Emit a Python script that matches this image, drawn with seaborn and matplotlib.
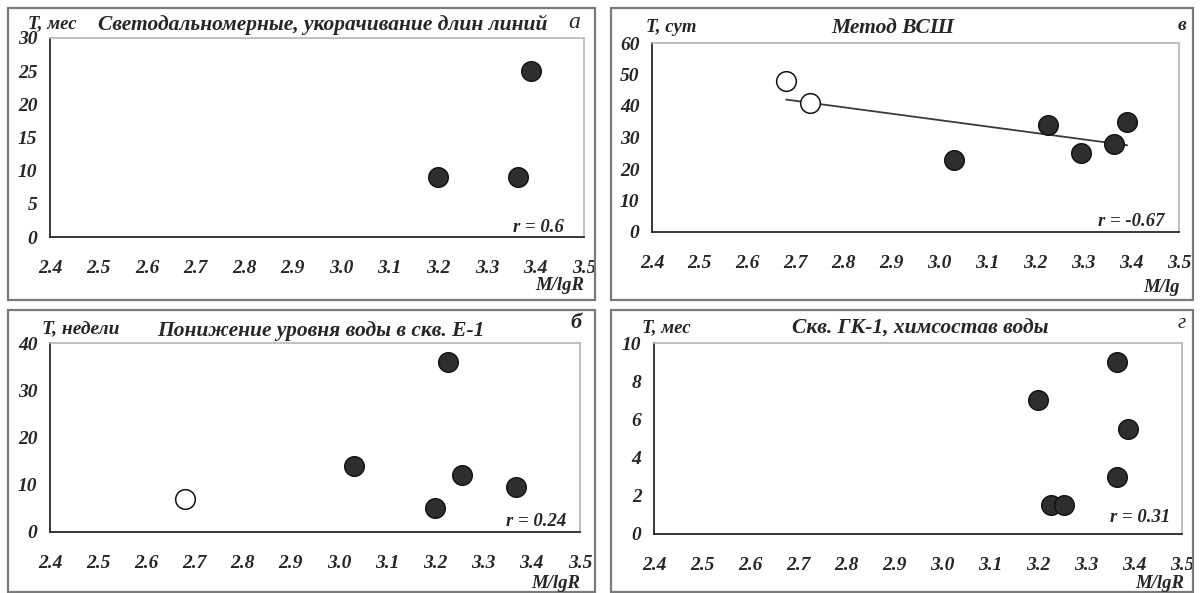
import matplotlib
matplotlib.use("Agg")
import matplotlib.pyplot as plt
from matplotlib.patches import Rectangle
import seaborn as sns
import pandas as pd

# ---- data ----
a_x = [3.20, 3.365, 3.39]
a_y = [9, 9, 25]

v_open_x = [2.68, 2.73]
v_open_y = [48, 41]
v_fill_x = [3.03, 3.227, 3.296, 3.365, 3.392]
v_fill_y = [23, 34, 25, 28, 35]

b_open_x = [2.68]
b_open_y = [7]
b_fill_x = [3.03, 3.20, 3.226, 3.256, 3.367]
b_fill_y = [14, 5, 36, 12, 9.5]

g_x = [3.20, 3.227, 3.254, 3.364, 3.364, 3.388]
g_y = [7, 1.5, 1.5, 9, 3, 5.5]

x_ticks = [2.4, 2.5, 2.6, 2.7, 2.8, 2.9, 3.0, 3.1, 3.2, 3.3, 3.4, 3.5]
x_ticklabels = ["2.4", "2.5", "2.6", "2.7", "2.8", "2.9", "3.0", "3.1", "3.2", "3.3", "3.4", "3.5"]

W, H = 1202, 593
sns.set_style("white")
plt.rcParams["font.family"] = ["Liberation Serif", "DejaVu Serif"]
plt.rcParams["font.weight"] = "bold"
plt.rcParams["font.style"] = "italic"

fig = plt.figure(figsize=(W / 100, H / 100), dpi=100)
fig.patch.set_facecolor("white")

DARK = "#262626"
FILL = "#2e2e2e"
MS = 200


def fx(px):
    return px / W


def fy(py):
    return 1 - py / H


def make_axes(x0, x1, top, bottom, ymax, ystep):
    ax = fig.add_axes([fx(x0), fy(bottom), fx(x1 - x0), (bottom - top) / H])
    ax.set_xlim(2.4, 3.5)
    ax.set_ylim(0, ymax)
    ax.set_xticks(x_ticks)
    ax.set_xticklabels(x_ticklabels)
    yt = list(range(0, ymax + 1, ystep))
    ax.set_yticks(yt)
    ax.set_yticklabels([str(v) for v in yt])
    for s in ["top", "right"]:
        ax.spines[s].set_color("#b5b5b5")
        ax.spines[s].set_linewidth(1.2)
    for s in ["left", "bottom"]:
        ax.spines[s].set_color(DARK)
        ax.spines[s].set_linewidth(1.3)
    ax.tick_params(axis="x", direction="inout", length=7, width=1.2, color=DARK,
                   pad=13, labelsize=14, labelcolor=DARK)
    ax.tick_params(axis="y", direction="out", length=4, width=1.2, color=DARK,
                   pad=5, labelsize=14, labelcolor=DARK)
    ax.set_facecolor("white")
    return ax


def filled(ax, xs, ys):
    df = pd.DataFrame({"x": xs, "y": ys})
    sns.scatterplot(data=df, x="x", y="y", ax=ax, s=MS, color=FILL,
                    edgecolor="#111111", linewidth=1.0, zorder=3, clip_on=False)


def hollow(ax, xs, ys):
    df = pd.DataFrame({"x": xs, "y": ys})
    sns.scatterplot(data=df, x="x", y="y", ax=ax, s=MS, color="white",
                    edgecolor="#111111", linewidth=1.1, zorder=3, clip_on=False)


def finish(ax):
    ax.set_xlabel("")
    ax.set_ylabel("")


def box(x0, y0, x1, y1):
    fig.patches.append(Rectangle((fx(x0), fy(y1)), fx(x1 - x0), (y1 - y0) / H,
                                 transform=fig.transFigure, fill=False,
                                 edgecolor="#7a7a7a", linewidth=1.6))


def txt(px, py, s, size, ha="left", weight="bold", style="italic"):
    fig.text(fx(px), fy(py), s, fontsize=size, ha=ha, va="center",
             color=DARK, fontweight=weight, fontstyle=style)


# ---- boxes ----
box(8, 8, 595, 300)
box(611, 8, 1193, 300)
box(8, 310, 595, 592)
box(611, 310, 1193, 592)

# ---- panel а ----
ax = make_axes(50, 584, 38, 237, 30, 5)
filled(ax, a_x, a_y)
finish(ax)
txt(28, 24, "T, мес", 13.5)
txt(323, 25, "Светодальномерные, укорачивание длин линий", 15.5, ha="center")
txt(574, 22, "а", 17, ha="center", weight="normal")
txt(564, 228, "r = 0.6", 13.5, ha="right")
txt(584, 285, "M/lgR", 13.5, ha="right")

# ---- panel в ----
ax = make_axes(652, 1179, 43, 232, 60, 10)
sns.regplot(x=v_open_x + v_fill_x, y=v_open_y + v_fill_y, ax=ax, ci=None,
            scatter=False, line_kws=dict(color="#3a3a3a", lw=1.3, zorder=2))
hollow(ax, v_open_x, v_open_y)
filled(ax, v_fill_x, v_fill_y)
finish(ax)
txt(646, 27, "T, сут", 13.5)
txt(893, 28, "Метод ВСШ", 15.5, ha="center")
txt(1182, 25, "в", 14, ha="center")
txt(1164, 222, "r = -0.67", 13.5, ha="right")
txt(1180, 288, "M/lg", 13.5, ha="right")

# ---- panel б ----
ax = make_axes(50, 580, 343, 532, 40, 10)
hollow(ax, b_open_x, b_open_y)
filled(ax, b_fill_x, b_fill_y)
finish(ax)
txt(42, 329, "T, недели", 14)
txt(321, 331, "Понижение уровня воды в скв. Е-1", 15.5, ha="center")
txt(576, 323, "б", 16, ha="center")
txt(566, 521, "r = 0.24", 13.5, ha="right")
txt(580, 583, "M/lgR", 13.5, ha="right")

# ---- panel г ----
ax = make_axes(654, 1182, 343, 534, 10, 2)
filled(ax, g_x, g_y)
finish(ax)
txt(642, 328, "T, мес", 13.5)
txt(920, 329, "Скв. ГК-1, химсостав воды", 15.5, ha="center")
txt(1182, 324, "г", 15, ha="center", weight="normal")
txt(1170, 517, "r = 0.31", 13.5, ha="right")
txt(1184, 584, "M/lgR", 13.5, ha="right")

fig.savefig("out.png", dpi=100, facecolor="white")
